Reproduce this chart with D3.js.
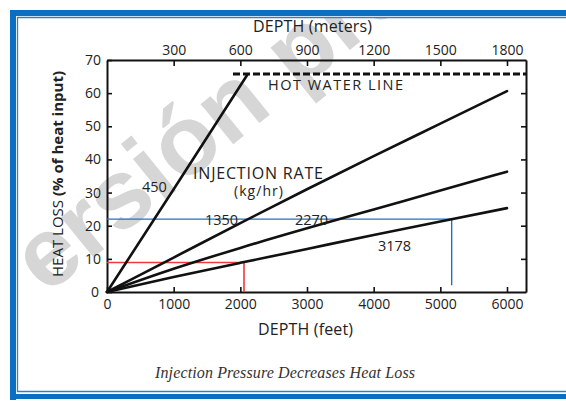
<!DOCTYPE html>
<html>
<head>
<meta charset="utf-8">
<script src="https://cdn.jsdelivr.net/npm/d3@7"></script>
<style>
  html, body { margin: 0; padding: 0; background: #fff; }
  svg { display: block; }
  text { font-family: "Open Sans", "DejaVu Sans", sans-serif; fill: #222; }
</style>
</head>
<body>
<script>
// ---- data ----
const depthFeetTicks = [0, 1000, 2000, 3000, 4000, 5000, 6000];
const depthMeterTicks = [300, 600, 900, 1200, 1500, 1800];
const heatLossTicks = [0, 10, 20, 30, 40, 50, 60, 70];

const rate450  = [[0, 0], [1000, 31.0], [2100, 65.4]];
const rate1350 = [[0, 0], [1000, 10.4], [2000, 20.8], [3000, 31.0], [4000, 41.0], [5000, 50.8], [6000, 60.6]];
const rate2270 = [[0, 0], [1000, 7.0], [2000, 13.3], [3000, 19.2], [4000, 24.9], [5000, 30.6], [6000, 36.3]];
const rate3178 = [[0, 0], [1000, 4.5], [2000, 8.8], [3000, 13.0], [4000, 17.2], [5000, 21.3], [6000, 25.3]];
const seriesNames = ["450", "1350", "2270", "3178"];
const hotWaterLevel = 65.8;
const hotWaterStart = 1890;

const redGuide = { depth: 2055, loss: 8.9 };
const blueGuide = { depth: 5170, loss: 22.0 };

// ---- layout ----
const W = 566, H = 401;
const svg = d3.select("body").append("svg").attr("width", W).attr("height", H);

const x = d3.scaleLinear().domain([0, 6285]).range([107, 526]);
const xm = d3.scaleLinear().domain([0, 6285 * 0.3]).range([107, 526]);
const y = d3.scaleLinear().domain([0, 70]).range([292, 60]);

// watermark
const defs = svg.append("defs");
defs.append("clipPath").attr("id", "inner")
  .append("rect").attr("x", 18).attr("y", 18).attr("width", W - 18).attr("height", 373);
const wm = svg.append("g").attr("clip-path", "url(#inner)")
  .append("text")
  .attr("transform", "translate(46,296) rotate(-39)")
  .style("font-family", "'Liberation Sans', Arial, sans-serif")
  .style("font-weight", "bold")
  .style("font-size", "98px")
  .style("fill", "#d6d6d6");
wm.append("tspan").text("ersión");
wm.append("tspan").attr("dx", 30).text("preliminar");

// frame
svg.append("rect").attr("x", 10).attr("y", 10).attr("width", W).attr("height", 6).attr("fill", "#0a6fc2");
svg.append("rect").attr("x", 10).attr("y", 10).attr("width", 6).attr("height", 390).attr("fill", "#0a6fc2");
svg.append("rect").attr("x", 10).attr("y", 394).attr("width", W).attr("height", 5).attr("fill", "#0a6fc2");
svg.append("path")
  .attr("d", `M${W},17.5 H17.5 V391.5 H${W}`)
  .attr("fill", "none").attr("stroke", "#2f7fc8").attr("stroke-width", 1.3);

// axes
const axisColor = "#111";
const fmt = d3.format("d");
const gB = svg.append("g").attr("transform", `translate(0,${y(0)})`)
  .call(d3.axisBottom(x).tickValues(depthFeetTicks).tickFormat(fmt).tickSizeInner(-5).tickSizeOuter(0).tickPadding(9));
const gT = svg.append("g").attr("transform", `translate(0,${y(70)})`)
  .call(d3.axisTop(xm).tickValues(depthMeterTicks).tickFormat(fmt).tickSizeInner(-6).tickSizeOuter(0).tickPadding(5));
const gL = svg.append("g").attr("transform", `translate(${x(0)},0)`)
  .call(d3.axisLeft(y).tickValues(heatLossTicks).tickFormat(fmt).tickSizeInner(-5).tickSizeOuter(0).tickPadding(6));
const gR = svg.append("g").attr("transform", `translate(${x(6285)},0)`)
  .call(d3.axisRight(y).tickValues(heatLossTicks.slice(1, 7)).tickSizeInner(-5).tickSizeOuter(0).tickFormat(""));
[gB, gT, gL, gR].forEach(g => {
  g.select(".domain").attr("stroke", axisColor).attr("stroke-width", 2);
  g.selectAll(".tick line").attr("stroke", axisColor).attr("stroke-width", 1.6);
  g.selectAll(".tick text").style("font-size", "14px").style("font-family", "'Open Sans', sans-serif").attr("fill", "#222");
});
gB.selectAll(".tick text").attr("dy", "0.6em");
gL.selectAll(".tick text").filter(d => d === 0).attr("dx", "-2");

// guide lines
svg.append("path")
  .attr("d", `M${x(0)},${y(redGuide.loss)} H${x(redGuide.depth)} V${y(0)}`)
  .attr("fill", "none").attr("stroke", "#f03a3a").attr("stroke-width", 1.6);
svg.append("path")
  .attr("d", `M${x(0)},${y(blueGuide.loss)} H${x(blueGuide.depth)} V${y(2)}`)
  .attr("fill", "none").attr("stroke", "#1f72c4").attr("stroke-width", 1.4);

// hot water line
svg.append("line")
  .attr("x1", x(hotWaterStart)).attr("x2", x(6285))
  .attr("y1", y(hotWaterLevel)).attr("y2", y(hotWaterLevel))
  .attr("stroke", "#111").attr("stroke-width", 3).attr("stroke-dasharray", "7,3");

// series
const line = d3.line().x(d => x(d[0])).y(d => y(d[1])).curve(d3.curveMonotoneX);
[rate450, rate1350, rate2270, rate3178].forEach(s => {
  svg.append("path").attr("d", line(s)).attr("fill", "none")
    .attr("stroke", "#111").attr("stroke-width", 2.6).attr("stroke-linecap", "round");
});

// labels
const lbl = (t, px, py, size, anchor, len) => {
  const el = svg.append("text")
    .attr("x", px).attr("y", py).attr("text-anchor", anchor || "start")
    .style("font-size", size + "px").text(t);
  if (len) el.attr("textLength", len).attr("lengthAdjust", "spacing");
  return el;
};

lbl("DEPTH (meters)", 253, 32, 16, "start", 119);
lbl("DEPTH (feet)", 258, 335, 16, "start", 95);
lbl("HOT WATER LINE", 268, 90, 14.5, "start", 135);
lbl("INJECTION RATE", 193, 179, 16, "start", 130);
lbl("(kg/hr)", 234, 196, 14, "start", 49);
lbl(seriesNames[0], 142, 192, 14.5);
lbl(seriesNames[1], 205, 225, 14.5);
lbl(seriesNames[2], 295, 225, 14.5);
lbl(seriesNames[3], 378, 251, 14.5);

const yt = svg.append("text")
  .attr("transform", "translate(63,174) rotate(-90)")
  .attr("text-anchor", "middle").style("font-size", "15px");
yt.append("tspan").text("HEAT LOSS ");
yt.append("tspan").style("font-weight", "bold").text("(% of heat input)");

svg.append("text")
  .attr("x", 155).attr("y", 378)
  .attr("textLength", 260).attr("lengthAdjust", "spacing")
  .style("font-family", "'Liberation Serif', 'DejaVu Serif', serif")
  .style("font-style", "italic").style("font-size", "16px").style("fill", "#333")
  .text("Injection Pressure Decreases Heat Loss");
</script>
</body>
</html>
